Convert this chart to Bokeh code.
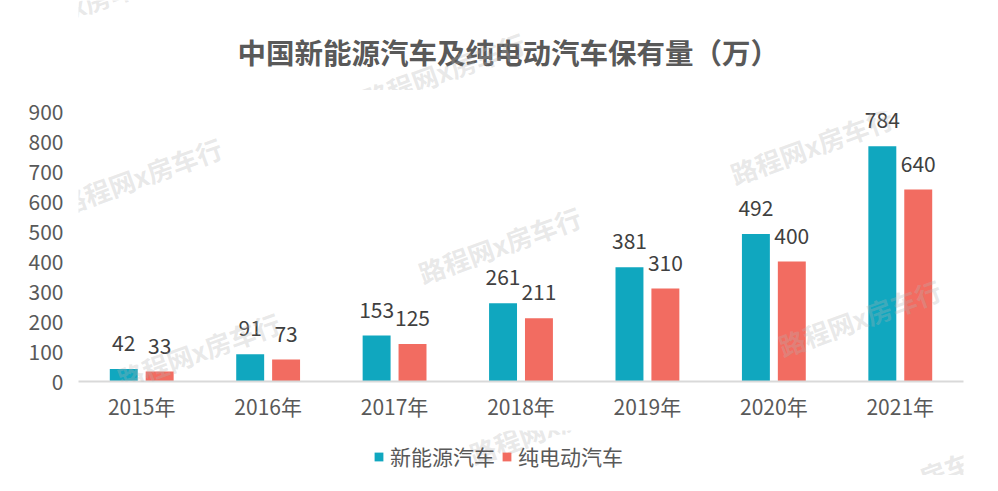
from bokeh.core.properties import value
from bokeh.embed import file_html
from bokeh.layouts import column
from bokeh.models import (ColumnDataSource, FactorRange, FixedTicker, Label,
                          LabelSet, Legend, LegendItem, Range1d)
from bokeh.plotting import figure
from bokeh.resources import INLINE
from bokeh.transform import dodge

# data (unit: 万)
years = ['2015年', '2016年', '2017年', '2018年', '2019年', '2020年', '2021年']
nev_stock = [42, 91, 153, 261, 381, 492, 784]   # 新能源汽车
bev_stock = [33, 73, 125, 211, 310, 400, 640]   # 纯电动汽车
y_ticks = [0, 100, 200, 300, 400, 500, 600, 700, 800, 900]

TITLE = '中国新能源汽车及纯电动汽车保有量（万）'
TEAL = '#10A7BF'
SALMON = '#F26C61'
FONT = 'Noto Sans CJK SC'
GREY = '#595959'

# faint diagonal watermark, centres in page px from the top-left
WATERMARK = '路程网x房车行'
WATERMARK_SPOTS = [(77, 5), (443, 70), (140, 175), (198, 350), (499, 244),
                   (811, 145), (859, 317), (550, 425), (913, 480)]

# the column lines up the frames of all three bands at this x
FRAME_LEFT = 78


def add_watermarks(fig, bottom):
    # bottom: page px of the figure frame's lower edge
    for wx, wy in WATERMARK_SPOTS:
        fig.add_layout(Label(x=wx - FRAME_LEFT, y=bottom - wy, x_units='screen',
                             y_units='screen', text=WATERMARK, angle=20,
                             angle_units='deg', text_align='center',
                             text_baseline='middle', text_font=FONT,
                             text_font_size='26px', text_font_style='bold',
                             text_color='#b4b4b4', text_alpha=0.3))


def strip(height):
    # axis-less band used for the title and the legend
    return figure(width=982, height=height, x_range=FactorRange(*years),
                  y_range=Range1d(0, 900), x_axis_type=None, y_axis_type=None,
                  output_backend="svg", toolbar_location=None, min_border=0,
                  outline_line_color=None)


source = ColumnDataSource(data=dict(year=years, nev=nev_stock, bev=bev_stock))

# title band
head = strip(90)
head.add_layout(Label(x=237 - FRAME_LEFT, y=39, x_units='screen',
                      y_units='screen', text=TITLE, text_align='left',
                      text_baseline='middle', text_font=FONT,
                      text_font_size='28.5px', text_font_style='bold',
                      text_color=GREY))
add_watermarks(head, 90)

# main chart
p = figure(width=982, height=340, x_range=FactorRange(*years, range_padding=0),
           y_range=Range1d(0, 900), output_backend="svg", toolbar_location=None,
           min_border_left=FRAME_LEFT, min_border_right=19, min_border_top=21,
           min_border_bottom=49, outline_line_color=None)

r_nev = p.vbar(x=dodge('year', -0.142, range=p.x_range), top='nev', width=0.221,
               source=source, fill_color=TEAL, line_color=None)
r_bev = p.vbar(x=dodge('year', 0.142, range=p.x_range), top='bev', width=0.221,
               source=source, fill_color=SALMON, line_color=None)

# value labels
for col, off in (('nev', -0.142), ('bev', 0.142)):
    labels = LabelSet(x=dodge('year', off, range=p.x_range), y=col, text=col,
                      source=source, text_align='center', text_baseline='bottom',
                      y_offset=18, text_font=value(FONT), text_font_size='21px',
                      text_color='#404040')
    p.add_layout(labels)

# axes
p.xgrid.grid_line_color = None
p.ygrid.grid_line_color = None

p.xaxis.axis_line_color = '#D9D9D9'
p.xaxis.axis_line_width = 2
p.xaxis.major_tick_line_color = None
p.xaxis.minor_tick_line_color = None
p.xaxis.major_label_standoff = 3
p.xaxis.major_label_text_font = FONT
p.xaxis.major_label_text_font_size = '21px'
p.xaxis.major_label_text_color = GREY

p.yaxis.ticker = FixedTicker(ticks=y_ticks)
p.yaxis.axis_line_color = None
p.yaxis.major_tick_line_color = None
p.yaxis.minor_tick_line_color = None
p.yaxis.major_label_standoff = 9
p.yaxis.major_label_text_font = FONT
p.yaxis.major_label_text_font_size = '21px'
p.yaxis.major_label_text_color = GREY

add_watermarks(p, 381)

# legend band; its hidden bars only lend their colours to the legend keys
leg = strip(45)
key_nev = leg.vbar(x='year', top='nev', width=0.2, source=source,
                   fill_color=TEAL, line_color=None, visible=False)
key_bev = leg.vbar(x='year', top='bev', width=0.2, source=source,
                   fill_color=SALMON, line_color=None, visible=False)

legend = Legend(items=[LegendItem(label='新能源汽车', renderers=[key_nev]),
                       LegendItem(label='纯电动汽车', renderers=[key_bev])],
                orientation='horizontal', location=(295, 4),
                glyph_width=11, glyph_height=11, label_standoff=6, spacing=6,
                padding=0, margin=0, border_line_color=None,
                background_fill_alpha=0, inactive_fill_alpha=0,
                label_text_font=FONT, label_text_font_size='21px',
                label_text_color=GREY)
leg.add_layout(legend)

add_watermarks(leg, 475)

open("out.html", "w").write(file_html(column(head, p, leg), INLINE))
